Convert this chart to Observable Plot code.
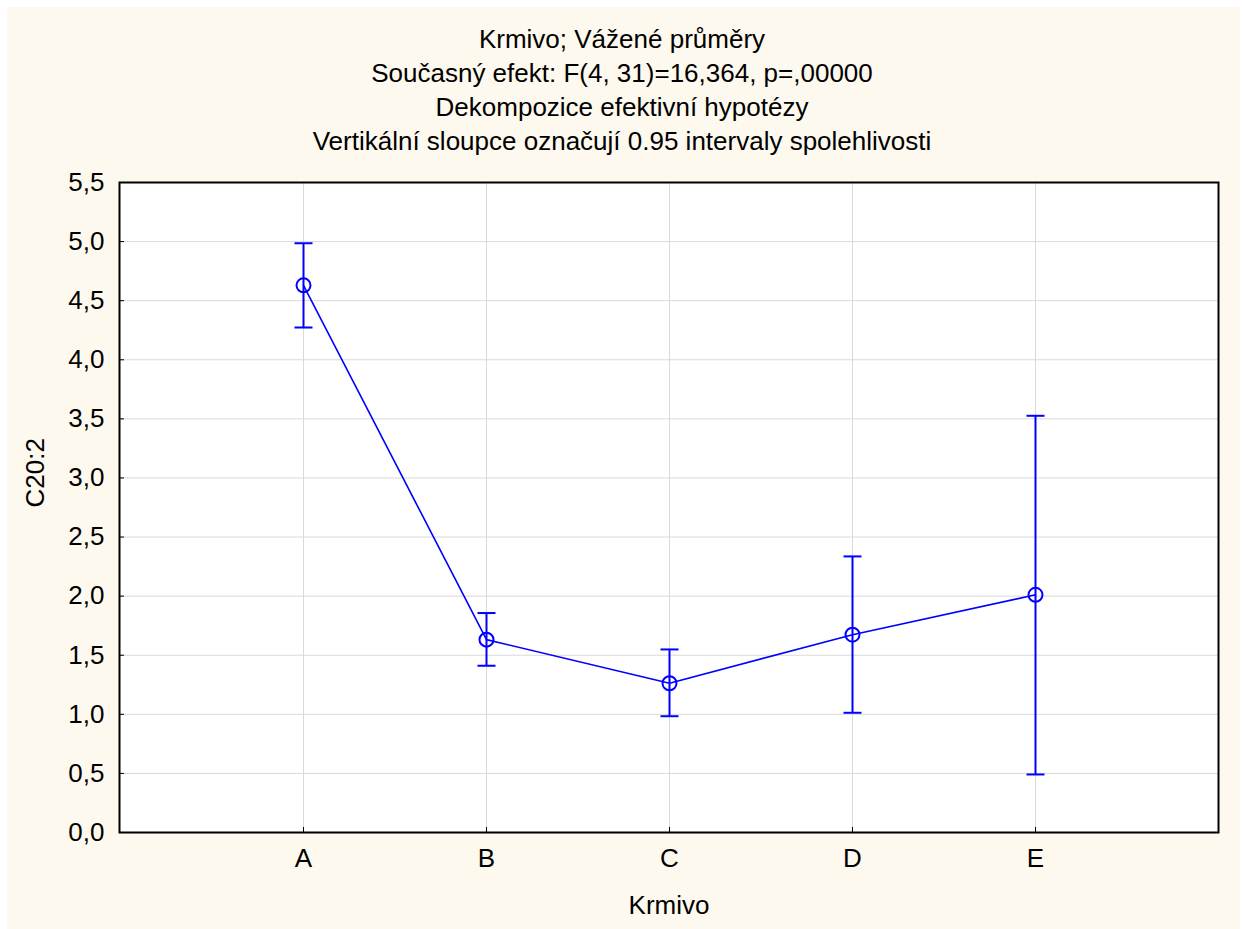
<!DOCTYPE html>
<html>
<head>
<meta charset="utf-8">
<script src="https://cdn.jsdelivr.net/npm/d3@7"></script>
<script src="https://cdn.jsdelivr.net/npm/@observablehq/plot@0.6"></script>
<style>
  html, body { margin: 0; padding: 0; background: #ffffff; }
  #page { position: relative; width: 1244px; height: 929px; overflow: hidden; }
  #bg { position: absolute; left: 7px; top: 7px; width: 1233px; height: 922px; background: #fef9ee; }
  #titles { position: absolute; left: 0; top: 22px; width: 1244px; text-align: center;
            font-family: "Liberation Sans", Arial, sans-serif; font-size: 26px; line-height: 34px; color: #000; }
  #chart { position: absolute; left: 0; top: 160px; }
</style>
</head>
<body>
<div id="page">
  <div id="bg"></div>
  <div id="titles"></div>
  <div id="chart"></div>
</div>
<script>
const titleLines = [
  "Krmivo; Vážené průměry",
  "Současný efekt: F(4, 31)=16,364, p=,00000",
  "Dekompozice efektivní hypotézy",
  "Vertikální sloupce označují 0.95 intervaly spolehlivosti"
];
const categories = ["A", "B", "C", "D", "E"];
const means = [4.63, 1.632, 1.263, 1.674, 2.011];
const lower = [4.273, 1.411, 0.984, 1.013, 0.491];
const upper = [4.986, 1.857, 1.549, 2.336, 3.526];
const yTicks = [0, 0.5, 1, 1.5, 2, 2.5, 3, 3.5, 4, 4.5, 5, 5.5];
const xLabel = "Krmivo";
const yLabel = "C20:2";

const data = categories.map((c, i) => ({cat: c, mean: means[i], lo: lower[i], hi: upper[i]}));

const titles = document.getElementById("titles");
titleLines.forEach(t => { const d = document.createElement("div"); d.textContent = t; titles.appendChild(d); });

const blue = "#0000ff";
const fmt = d => d.toFixed(1).replace(".", ",");
// horizontal cap symbol for error bars
const capSymbol = {draw(ctx) { ctx.moveTo(-9, 0); ctx.lineTo(9, 0); }};

const chart = Plot.plot({
  width: 1244,
  height: 769,
  marginLeft: 119,
  marginRight: 26,
  marginTop: 22,
  marginBottom: 97,
  style: {background: "transparent", fontFamily: "'Liberation Sans', Arial, sans-serif", fontSize: "26px", color: "#000"},
  x: {type: "point", domain: categories, padding: 1, label: null},
  y: {domain: [0, 5.5], label: null},
  marks: [
    Plot.frame({fill: "white"}),
    Plot.gridY(yTicks, {stroke: "#d9d9d9", strokeOpacity: 1, strokeWidth: 1}),
    Plot.gridX(categories, {stroke: "#d9d9d9", strokeOpacity: 1, strokeWidth: 1}),
    Plot.axisY(yTicks, {tickSize: 0, tickPadding: 15, tickFormat: fmt, label: null, fontSize: 26}),
    Plot.axisY(yTicks, {tickSize: -5, text: null, label: null, stroke: "#000"}),
    Plot.axisX(categories, {tickSize: 0, tickPadding: 16, label: null, fontSize: 26}),
    Plot.axisX(categories, {tickSize: -5, text: null, label: null, stroke: "#000"}),
    Plot.ruleX(data, {x: "cat", y1: "lo", y2: "hi", stroke: blue, strokeWidth: 2}),
    Plot.dot(data, {x: "cat", y: "hi", symbol: capSymbol, stroke: blue, strokeWidth: 2, fill: "none"}),
    Plot.dot(data, {x: "cat", y: "lo", symbol: capSymbol, stroke: blue, strokeWidth: 2, fill: "none"}),
    Plot.line(data, {x: "cat", y: "mean", stroke: blue, strokeWidth: 1.6}),
    Plot.dot(data, {x: "cat", y: "mean", r: 7, stroke: blue, strokeWidth: 2, fill: "none"}),
    Plot.frame({stroke: "#000", strokeWidth: 2}),
    Plot.text([yLabel], {frameAnchor: "left", dx: -84, rotate: -90, fontSize: 26}),
    Plot.text([xLabel], {frameAnchor: "bottom", dy: 81, fontSize: 26})
  ]
});
document.getElementById("chart").appendChild(chart);
</script>
</body>
</html>
